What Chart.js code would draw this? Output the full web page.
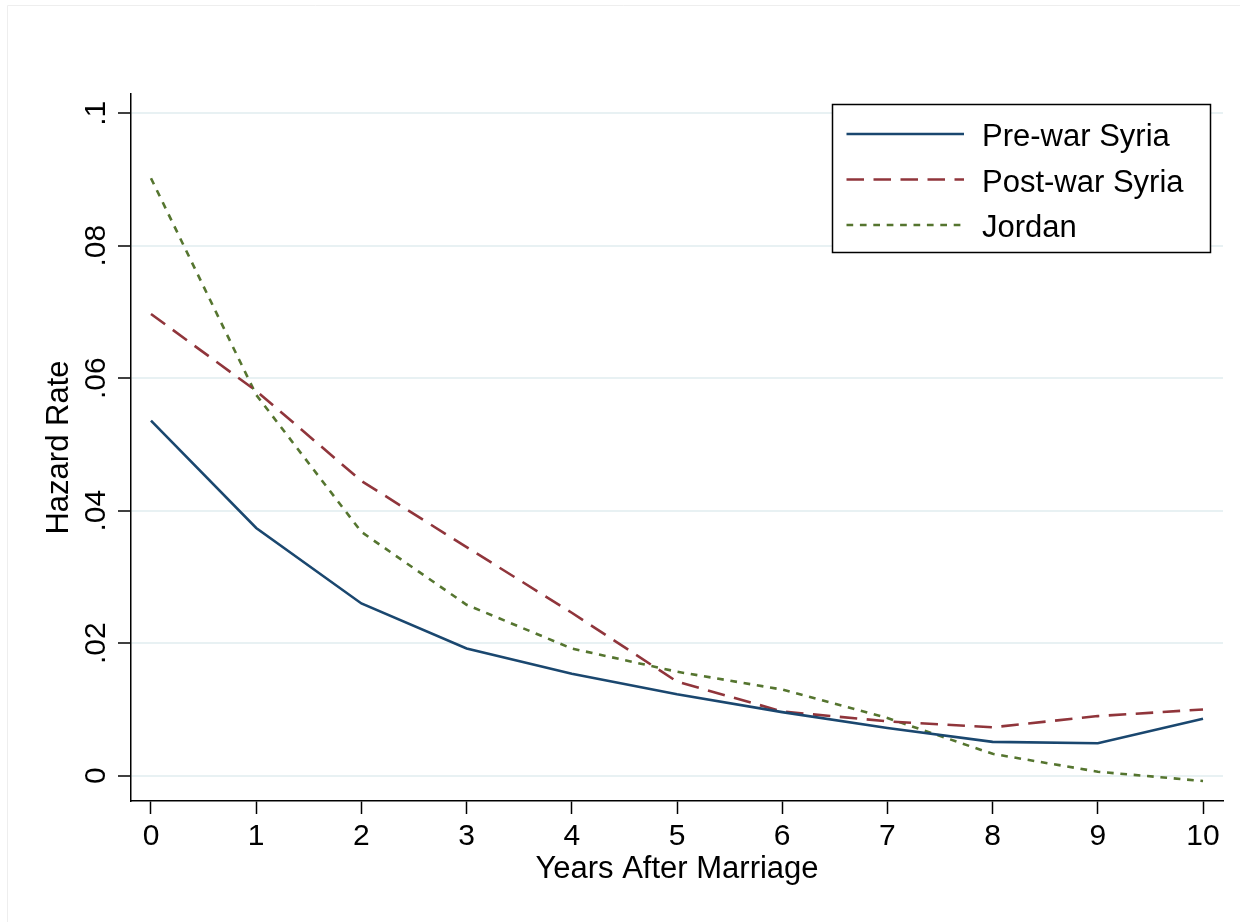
<!DOCTYPE html>
<html>
<head>
<meta charset="utf-8">
<title>Hazard Rate by Years After Marriage</title>
<script src="https://cdn.jsdelivr.net/npm/chart.js@4.4.1/dist/chart.umd.min.js"></script>
<style>
  html, body { margin: 0; padding: 0; background: #fff; }
  canvas { display: block; }
</style>
</head>
<body>
<canvas id="hazardChart" width="1248" height="922"></canvas>
<script>
// values
const years = [0, 1, 2, 3, 4, 5, 6, 7, 8, 9, 10];
const preWarSyria  = [0.0536, 0.0374, 0.0260, 0.0192, 0.0154, 0.0123, 0.0096, 0.0072, 0.0051, 0.0049, 0.0086];
const postWarSyria = [0.0697, 0.0581, 0.0445, 0.0345, 0.0246, 0.0142, 0.0097, 0.0082, 0.0073, 0.0090, 0.0100];
const jordan       = [0.0902, 0.0575, 0.0368, 0.0258, 0.0192, 0.0157, 0.0130, 0.0087, 0.0033, 0.0006, -0.0008];
const seriesNames = ['Pre-war Syria', 'Post-war Syria', 'Jordan'];
const yTicks = [0, 0.02, 0.04, 0.06, 0.08, 0.1];
const yTickLabels = ['0', '.02', '.04', '.06', '.08', '.1'];

const FONT = '"Liberation Sans", Arial, Helvetica, sans-serif';
const LINE_W = 2.6;

function toPoints(vals) {
    return years.map((x, i) => ({ x: x, y: vals[i] }));
}

// faint outer frame like the stata export
const framePlugin = {
    id: 'frame',
    beforeDraw(chart) {
        const ctx = chart.ctx;
        ctx.save();
        ctx.fillStyle = '#fff';
        ctx.fillRect(0, 0, chart.width, chart.height);
        ctx.strokeStyle = '#eeeeee';
        ctx.lineWidth = 1;
        ctx.beginPath();
        ctx.moveTo(7.5, chart.height);
        ctx.lineTo(7.5, 5.5);
        ctx.lineTo(1240, 5.5);
        ctx.stroke();
        ctx.restore();
    }
};

// y tick labels are vertical in the original
const yLabelPlugin = {
    id: 'yLabels',
    afterDraw(chart) {
        const ctx = chart.ctx;
        const y = chart.scales.y;
        ctx.save();
        ctx.fillStyle = '#000';
        ctx.font = '30px ' + FONT;
        ctx.textAlign = 'center';
        ctx.textBaseline = 'alphabetic';
        yTicks.forEach((v, i) => {
            ctx.save();
            ctx.translate(104.5, y.getPixelForValue(v));
            ctx.rotate(-Math.PI / 2);
            ctx.fillText(yTickLabels[i], 0, 0);
            ctx.restore();
        });
        ctx.restore();
    }
};

// boxed legend inside the plot, top right
const legendPlugin = {
    id: 'boxLegend',
    afterDraw(chart) {
        const ctx = chart.ctx;
        const box = { left: 832.5, top: 104.5, right: 1210.5, bottom: 252.5 };
        ctx.save();
        ctx.fillStyle = '#fff';
        ctx.fillRect(box.left, box.top, box.right - box.left, box.bottom - box.top);
        ctx.strokeStyle = '#000';
        ctx.lineWidth = 1.5;
        ctx.strokeRect(box.left, box.top, box.right - box.left, box.bottom - box.top);

        const rows = [134, 179.5, 225];
        ctx.font = '31px ' + FONT;
        ctx.textBaseline = 'alphabetic';
        ctx.textAlign = 'left';
        chart.data.datasets.forEach((ds, i) => {
            const ry = rows[i];
            ctx.strokeStyle = ds.borderColor;
            ctx.lineWidth = ds.borderWidth;
            ctx.setLineDash(ds.borderDash || []);
            ctx.beginPath();
            ctx.moveTo(846.5, ry);
            ctx.lineTo(964, ry);
            ctx.stroke();
            ctx.setLineDash([]);
            ctx.fillStyle = '#000';
            ctx.fillText(ds.label, 982, ry + 12);
        });
        ctx.restore();
    }
};

const ctx = document.getElementById('hazardChart').getContext('2d');
new Chart(ctx, {
    type: 'line',
    data: {
        datasets: [{
            label: seriesNames[0],
            data: toPoints(preWarSyria),
            borderColor: '#1a476f',
            borderWidth: LINE_W
        }, {
            label: seriesNames[1],
            data: toPoints(postWarSyria),
            borderColor: '#90353b',
            borderWidth: LINE_W,
            borderDash: [17.5, 9.5]
        }, {
            label: seriesNames[2],
            data: toPoints(jordan),
            borderColor: '#55752f',
            borderWidth: LINE_W,
            borderDash: [6.7, 6.7]
        }]
    },
    options: {
        responsive: false,
        animation: false,
        layout: {
            padding: { top: 94, right: 25, left: 0, bottom: 0 }
        },
        elements: {
            point: { radius: 0, hoverRadius: 0 },
            line: { tension: 0, fill: false }
        },
        plugins: {
            legend: { display: false },
            tooltip: { enabled: false }
        },
        scales: {
            x: {
                type: 'linear',
                min: -0.19,
                max: 10.19,
                afterBuildTicks: s => { s.ticks = years.map(v => ({ value: v })); },
                afterFit: s => { s.height = 121; },
                grid: {
                    drawOnChartArea: false,
                    drawTicks: true,
                    tickLength: 13,
                    tickColor: '#000',
                    tickWidth: 1.5
                },
                border: { color: '#000', width: 1.5 },
                ticks: {
                    color: '#000',
                    font: { family: FONT, size: 30 },
                    padding: 4.5,
                    maxRotation: 0,
                    autoSkip: false
                },
                title: {
                    display: true,
                    text: 'Years After Marriage',
                    color: '#000',
                    font: { family: FONT, size: 31 },
                    padding: { top: 0, bottom: 34 }
                }
            },
            y: {
                min: -0.00382,
                max: 0.10291,
                afterBuildTicks: s => { s.ticks = yTicks.map(v => ({ value: v })); },
                afterFit: s => { s.width = 131; },
                grid: {
                    color: '#e8f1f3',
                    lineWidth: 2,
                    tickColor: '#000',
                    tickWidth: 1.5,
                    tickLength: 13
                },
                border: { color: '#000', width: 1.5 },
                ticks: { display: false },
                title: {
                    display: true,
                    text: 'Hazard Rate',
                    color: '#000',
                    font: { family: FONT, size: 31 },
                    padding: { top: 40.5, bottom: 0 }
                }
            }
        }
    },
    plugins: [framePlugin, yLabelPlugin, legendPlugin]
});
</script>
</body>
</html>
